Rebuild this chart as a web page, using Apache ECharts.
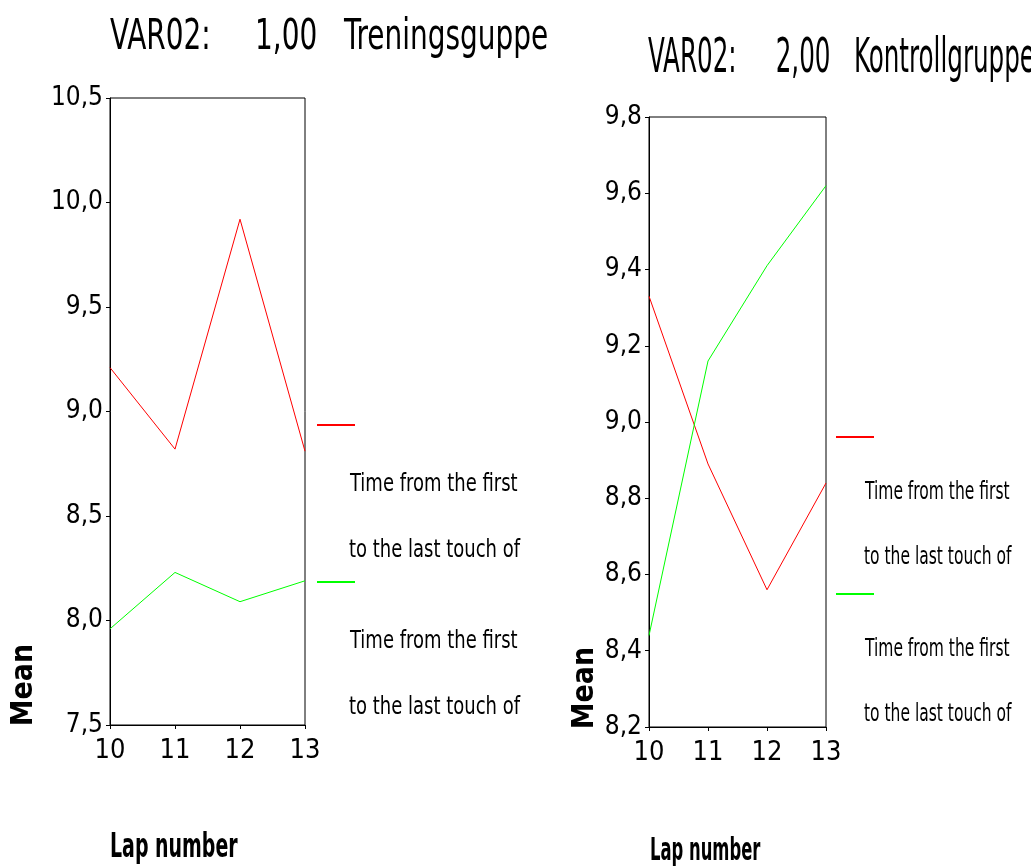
<!DOCTYPE html>
<html>
<head>
<meta charset="utf-8">
<script src="https://cdn.jsdelivr.net/npm/echarts@6/dist/echarts.min.js"></script>
<style>
  html, body { margin: 0; padding: 0; background: #fff; }
  #chart { width: 1031px; height: 866px; }
</style>
</head>
<body>
<div id="chart"></div>
<script>
// data
var laps = ['10', '11', '12', '13'];
var trainRed = [9.21, 8.82, 9.92, 8.81];
var trainGreen = [7.96, 8.23, 8.09, 8.19];
var controlRed = [9.33, 8.89, 8.56, 8.84];
var controlGreen = [8.44, 9.16, 9.41, 9.62];
var seriesName = 'Time from the first to the last touch of';

var FONT = '"Liberation Sans Narrow", "DejaVu Sans Condensed", "Liberation Sans", sans-serif';

function fmt(v) {
  return v.toFixed(1).replace('.', ',');
}

// squeezed text (the original uses a very narrow face)
function txt(s, x, y, size, sx, opts) {
  opts = opts || {};
  return {
    type: 'text', x: x, y: y, scaleX: sx, rotation: opts.rotation || 0,
    style: {
      text: s,
      font: (opts.bold ? 'bold ' : '') + size + 'px ' + FONT,
      fill: '#000',
      align: opts.align || 'left',
      verticalAlign: 'middle'
    }
  };
}

function legendBlock(x, y, textX, d1, d2, size, sx) {
  // line swatches with two-line label underneath, as in the original
  var items = [];
  var colors = ['#ff0000', '#00ff00'];
  var ys = [y, y + 157];
  for (var i = 0; i < 2; i++) {
    items.push({
      type: 'line',
      shape: { x1: x, y1: ys[i], x2: x + 38, y2: ys[i] },
      style: { stroke: colors[i], lineWidth: 2 }
    });
    items.push(txt('Time from the first', textX + 1, ys[i] + d1, size, sx));
    items.push(txt('to the last touch of', textX, ys[i] + d2, size, sx));
  }
  return items;
}

var chart = echarts.init(document.getElementById('chart'));

var yBase = {
  type: 'value',
  axisLine: { show: true, lineStyle: { color: '#000', width: 1 } },
  axisTick: { show: true, length: 4, lineStyle: { color: '#000' } },
  splitLine: { show: false },
  axisLabel: { color: '#000', fontSize: 26, fontFamily: FONT, margin: 7, formatter: fmt }
};
var xBase = {
  type: 'category',
  data: laps,
  boundaryGap: false,
  axisLine: { show: true, lineStyle: { color: '#000', width: 1 } },
  axisTick: { show: true, length: 4, alignWithLabel: true, lineStyle: { color: '#000' } },
  axisLabel: { color: '#000', fontSize: 27, fontFamily: FONT, margin: 12 }
};

chart.setOption({
  backgroundColor: '#fff',
  animation: false,
  grid: [
    { left: 110, top: 98, width: 195, height: 627, show: true, borderColor: '#000', borderWidth: 1, backgroundColor: '#fff' },
    { left: 649, top: 117, width: 177, height: 610, show: true, borderColor: '#000', borderWidth: 1, backgroundColor: '#fff' }
  ],
  xAxis: [
    Object.assign({}, xBase, { gridIndex: 0 }),
    Object.assign({}, xBase, { gridIndex: 1 })
  ],
  yAxis: [
    Object.assign({}, yBase, { gridIndex: 0, min: 7.5, max: 10.5, interval: 0.5 }),
    Object.assign({}, yBase, { gridIndex: 1, min: 8.2, max: 9.8, interval: 0.2 })
  ],
  series: [
    { name: seriesName, type: 'line', xAxisIndex: 0, yAxisIndex: 0, data: trainRed, showSymbol: false, lineStyle: { color: '#ff0000', width: 1 }, itemStyle: { color: '#ff0000' } },
    { name: seriesName + ' ', type: 'line', xAxisIndex: 0, yAxisIndex: 0, data: trainGreen, showSymbol: false, lineStyle: { color: '#00ff00', width: 1 }, itemStyle: { color: '#00ff00' } },
    { name: seriesName, type: 'line', xAxisIndex: 1, yAxisIndex: 1, data: controlRed, showSymbol: false, lineStyle: { color: '#ff0000', width: 1 }, itemStyle: { color: '#ff0000' } },
    { name: seriesName + ' ', type: 'line', xAxisIndex: 1, yAxisIndex: 1, data: controlGreen, showSymbol: false, lineStyle: { color: '#00ff00', width: 1 }, itemStyle: { color: '#00ff00' } }
  ],
  graphic: [].concat(
    [
      txt('VAR02:     1,00   Treningsguppe', 110, 38, 42, 0.74),
      txt('VAR02:     2,00   Kontrollgruppe', 648, 60, 48, 0.57)
    ],
    legendBlock(317, 425, 349, 59, 125, 25, 0.8),
    legendBlock(836, 437, 864, 55, 120, 25, 0.69),
    [
      txt('Mean', 24, 685, 30, 1, { bold: true, rotation: Math.PI / 2, align: 'center' }),
      txt('Mean', 585, 688, 30, 1, { bold: true, rotation: Math.PI / 2, align: 'center' }),
      txt('Lap number', 110, 848, 34, 0.62, { bold: true }),
      txt('Lap number', 650, 852, 32, 0.57, { bold: true })
    ]
  )
});
</script>
</body>
</html>
